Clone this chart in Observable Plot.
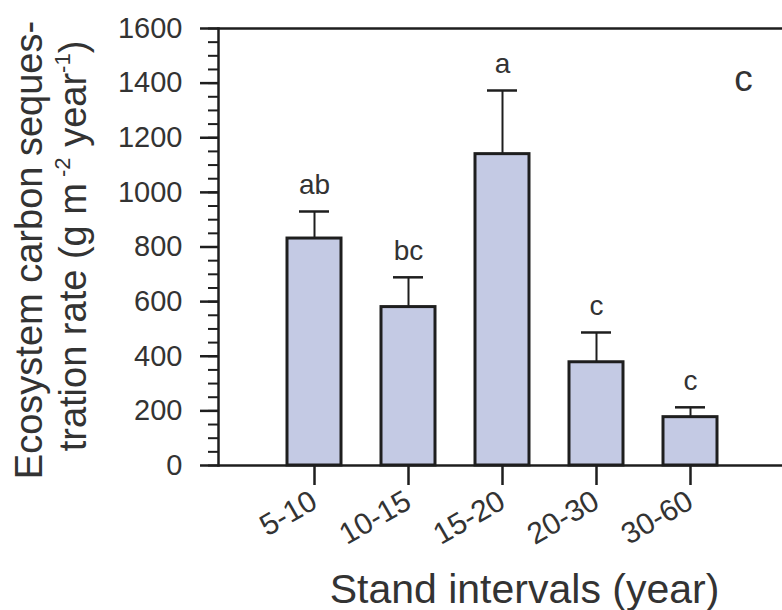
<!DOCTYPE html>
<html>
<head>
<meta charset="utf-8">
<script src="https://cdn.jsdelivr.net/npm/d3@7"></script>
<script src="https://cdn.jsdelivr.net/npm/@observablehq/plot@0.6"></script>
<style>
  html, body { margin: 0; padding: 0; background: #fff; }
</style>
</head>
<body>
<div id="chart"></div>
<script>
const intervals = ["5-10", "10-15", "15-20", "20-30", "30-60"];
const rates = [831, 580, 1140, 378, 177];
const errors = [99, 109, 233, 109, 36];
const letters = ["ab", "bc", "a", "c", "c"];
const yTicks = [0, 200, 400, 600, 800, 1000, 1200, 1400, 1600];
const yMinorTicks = d3.range(0, 1601, 50);
const xTitle = "Stand intervals (year)";
const panelLabel = "c";

const data = intervals.map((d, i) => ({interval: d, rate: rates[i], err: errors[i], letter: letters[i]}));
const ink = "#1e1e1e";

const chart = Plot.plot({
  width: 782,
  height: 610,
  marginTop: 28,
  marginBottom: 145,
  marginLeft: 218,
  marginRight: 0,
  style: {fontFamily: "'Liberation Sans', Arial, sans-serif", color: "#2a2a2a", background: "#fff", overflow: "visible"},
  x: {domain: intervals, range: [266.25, 738.75], paddingInner: 0.423, paddingOuter: 0.2115},
  y: {domain: [0, 1600]},
  marks: [
    Plot.barY(data, {x: "interval", y: "rate", fill: "#c4cae4", stroke: ink, strokeWidth: 3}),
    Plot.ruleX(data, {x: "interval", y1: "rate", y2: d => d.rate + d.err, stroke: ink, strokeWidth: 2}),
    Plot.tickY(data, {x: "interval", y: d => d.rate + d.err, insetLeft: 12, insetRight: 12, stroke: ink, strokeWidth: 2.5}),
    Plot.text(data, {x: "interval", y: d => d.rate + d.err, text: "letter", dy: -17, lineAnchor: "bottom", fontSize: 28, fill: "#333"}),
    Plot.ruleY([0, 1600], {stroke: ink, strokeWidth: 2.5}),
    Plot.frame({anchor: "left", stroke: ink, strokeWidth: 2.5}),
    Plot.axisY(yMinorTicks, {tickSize: 10, tickFormat: () => "", label: null, stroke: ink, strokeWidth: 2}),
    Plot.axisY(yTicks, {tickSize: 18, tickPadding: 18, tickFormat: d => String(d), fontSize: 29, label: null, stroke: ink, strokeWidth: 2.5, fill: "#333"}),
    Plot.axisX({tickSize: 20, tickPadding: 13, tickRotate: -30, fontSize: 30, label: null, stroke: ink, strokeWidth: 2.5, fill: "#333"}),
    Plot.text([xTitle], {frameAnchor: "bottom", text: d => d, dx: 24, dy: 137, lineAnchor: "bottom", fontSize: 41, fill: "#333"}),
    Plot.text([panelLabel], {frameAnchor: "top-right", text: d => d, dx: -39, dy: 62, textAnchor: "middle", lineAnchor: "bottom", fontSize: 37, fill: "#333"})
  ]
});

document.getElementById("chart").appendChild(chart);

// Two-line rotated y-axis title with superscripts
const svg = d3.select(chart);
const g = svg.append("g")
  .attr("font-family", "'Liberation Sans', Arial, sans-serif")
  .attr("font-size", 38)
  .attr("fill", "#333")
  .attr("text-anchor", "middle");

g.append("text")
  .attr("transform", "translate(42,250) rotate(-90)")
  .text("Ecosystem carbon seques-");

const t2 = g.append("text")
  .attr("transform", "translate(86,246) rotate(-90)");
t2.append("tspan").text("tration rate (g m");
t2.append("tspan").attr("font-size", 22).attr("dy", -16).text(" -2");
t2.append("tspan").attr("dy", 16).text(" year");
t2.append("tspan").attr("font-size", 22).attr("dy", -16).text("-1");
t2.append("tspan").attr("dy", 16).text(")");
</script>
</body>
</html>
